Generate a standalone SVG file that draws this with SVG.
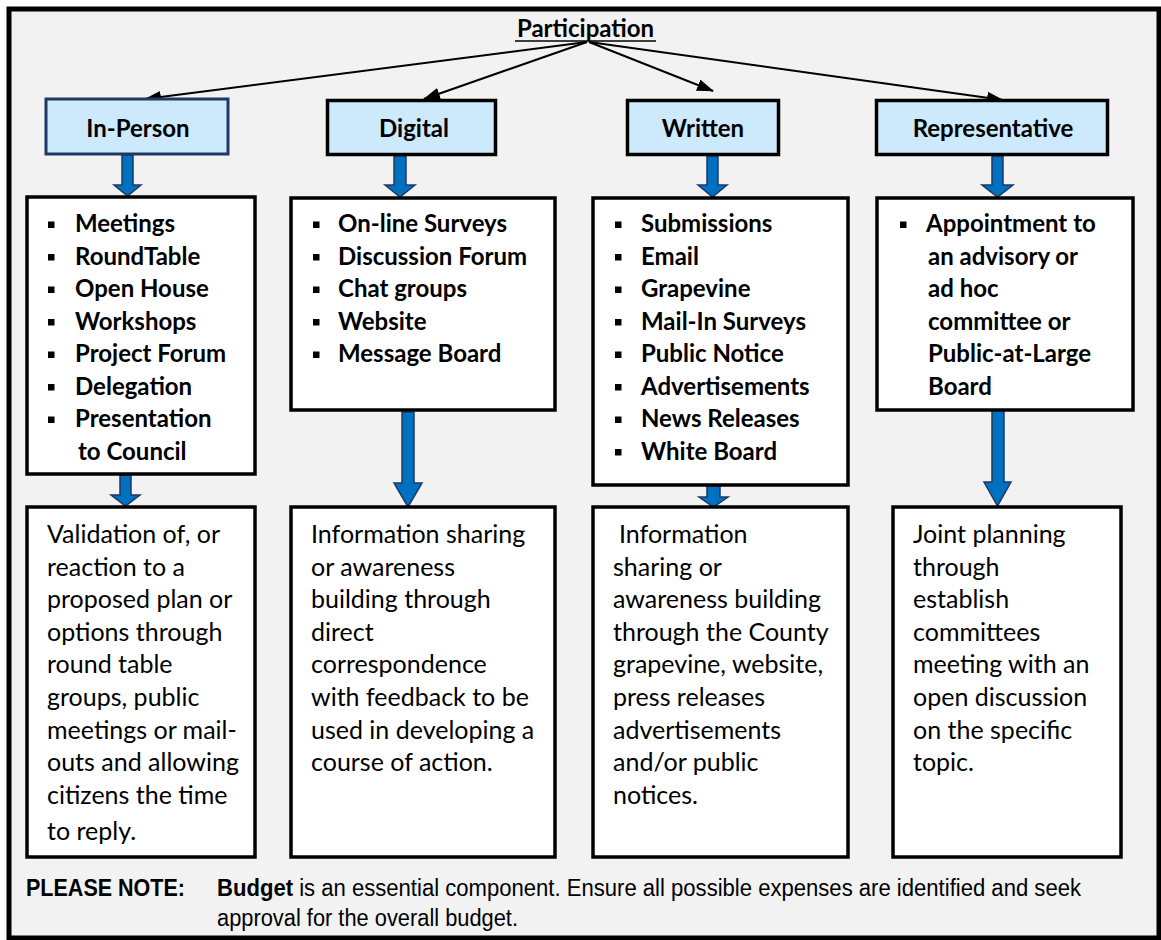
<svg xmlns="http://www.w3.org/2000/svg" width="1161" height="940" viewBox="0 0 1161 940">
<style>
.frame{fill:#f2f2f2;stroke:#000;stroke-width:5}
.hdr{fill:#cdeafc;stroke:#000;stroke-width:3.5}
.box{fill:#fff;stroke:#000;stroke-width:3.5}
.t{font-family:Lato,"Open Sans",sans-serif;font-size:24px;fill:#000}
.r{font-size:25px}
.b{font-weight:bold}
.c{text-anchor:middle}
.bul{fill:#000}
.arr{fill:#0070c0;stroke:#1f3864;stroke-width:1.5}
.con{stroke:#000;stroke-width:2;fill:none;marker-end:url(#ah)}
.ft{font-family:"Liberation Sans Narrow","Liberation Sans",Arial,sans-serif;font-size:23px;fill:#000}
</style>
<defs>
<marker id="ah" markerUnits="userSpaceOnUse" markerWidth="17" markerHeight="12" refX="16" refY="6" orient="auto">
<path d="M0,0 L17,6 L0,12 z" fill="#000"/>
</marker>
</defs>
<rect class="frame" x="9" y="9" width="1150" height="929"/>

<g id="participation">
<text class="t b c" x="585.5" y="37">Participation</text>
<line x1="515" y1="41" x2="656" y2="41" stroke="#000" stroke-width="1.6"/>
</g>

<g id="connectors">
<line class="con" x1="587" y1="42" x2="145" y2="99"/>
<line class="con" x1="587" y1="42" x2="424" y2="99"/>
<line class="con" x1="589" y1="42" x2="713" y2="91"/>
<line class="con" x1="589" y1="42" x2="1003" y2="100"/>
<polygon class="arr" points="122,155 133,155 133,185 141,185 127.5,196 114,185 122,185"/>
<polygon class="arr" points="394,156 406,156 406,185 415,185 400,197 385,185 394,185"/>
<polygon class="arr" points="707,156 718,156 718,185 727,185 712.5,197 698,185 707,185"/>
<polygon class="arr" points="992,156 1003,156 1003,185 1013,185 997.5,197 982,185 992,185"/>
<polygon class="arr" points="120,475 131,475 131,495 140,495 125.5,506 111,495 120,495"/>
<polygon class="arr" points="402,412 414,412 414,483 422,483 408,507 394,483 402,483"/>
<polygon class="arr" points="707,486 720,486 720,497 728,497 713.5,507 699,497 707,497"/>
<polygon class="arr" points="992,410 1004,410 1004,482 1011,482 997.5,506 984,482 992,482"/>
</g>

<g id="in-person">
<rect class="hdr" x="46" y="99" width="182" height="55" style="stroke:#1f3864;stroke-width:3"/>
<text class="t b c" x="138" y="137">In-Person</text>
</g>
<g id="digital">
<rect class="hdr" x="327.5" y="100.5" width="168" height="54"/>
<text class="t b c" x="414" y="137">Digital</text>
</g>
<g id="written">
<rect class="hdr" x="627.5" y="100.5" width="151" height="54"/>
<text class="t b c" x="703" y="137">Written</text>
</g>
<g id="representative">
<rect class="hdr" x="876.5" y="100.5" width="231" height="54"/>
<text class="t b c" x="993" y="137">Representative</text>
</g>

<g id="in-person-list">
<rect class="box" x="27" y="197" width="228" height="277"/>
<rect class="bul" x="48" y="221.5" width="6.5" height="6.5"/>
<rect class="bul" x="48" y="254" width="6.5" height="6.5"/>
<rect class="bul" x="48" y="286.5" width="6.5" height="6.5"/>
<rect class="bul" x="48" y="319" width="6.5" height="6.5"/>
<rect class="bul" x="48" y="351.5" width="6.5" height="6.5"/>
<rect class="bul" x="48" y="384" width="6.5" height="6.5"/>
<rect class="bul" x="48" y="416.5" width="6.5" height="6.5"/>
<text class="t b" x="75" y="232">Meetings</text>
<text class="t b" x="75" y="264.5">RoundTable</text>
<text class="t b" x="75" y="297">Open House</text>
<text class="t b" x="75" y="329.5">Workshops</text>
<text class="t b" x="75" y="362">Project Forum</text>
<text class="t b" x="75" y="394.5">Delegation</text>
<text class="t b" x="75" y="427">Presentation</text>
<text class="t b" x="78" y="459.5">to Council</text>
</g>

<g id="digital-list">
<rect class="box" x="291" y="198" width="264" height="212"/>
<rect class="bul" x="313" y="221.5" width="6.5" height="6.5"/>
<rect class="bul" x="313" y="254" width="6.5" height="6.5"/>
<rect class="bul" x="313" y="286.5" width="6.5" height="6.5"/>
<rect class="bul" x="313" y="319" width="6.5" height="6.5"/>
<rect class="bul" x="313" y="351.5" width="6.5" height="6.5"/>
<text class="t b" x="338" y="232">On-line Surveys</text>
<text class="t b" x="338" y="264.5">Discussion Forum</text>
<text class="t b" x="338" y="297">Chat groups</text>
<text class="t b" x="338" y="329.5">Website</text>
<text class="t b" x="338" y="362">Message Board</text>
</g>

<g id="written-list">
<rect class="box" x="593" y="198" width="255" height="287"/>
<rect class="bul" x="615" y="221.5" width="6.5" height="6.5"/>
<rect class="bul" x="615" y="254" width="6.5" height="6.5"/>
<rect class="bul" x="615" y="286.5" width="6.5" height="6.5"/>
<rect class="bul" x="615" y="319" width="6.5" height="6.5"/>
<rect class="bul" x="615" y="351.5" width="6.5" height="6.5"/>
<rect class="bul" x="615" y="384" width="6.5" height="6.5"/>
<rect class="bul" x="615" y="416.5" width="6.5" height="6.5"/>
<rect class="bul" x="615" y="449" width="6.5" height="6.5"/>
<text class="t b" x="641" y="232">Submissions</text>
<text class="t b" x="641" y="264.5">Email</text>
<text class="t b" x="641" y="297">Grapevine</text>
<text class="t b" x="641" y="329.5">Mail-In Surveys</text>
<text class="t b" x="641" y="362">Public Notice</text>
<text class="t b" x="641" y="394.5">Advertisements</text>
<text class="t b" x="641" y="427">News Releases</text>
<text class="t b" x="641" y="459.5">White Board</text>
</g>

<g id="representative-list">
<rect class="box" x="877" y="198" width="256" height="212"/>
<rect class="bul" x="900" y="221.5" width="6.5" height="6.5"/>
<text class="t b" x="926" y="232">Appointment to</text>
<text class="t b" x="928" y="264.5">an advisory or</text>
<text class="t b" x="928" y="297">ad hoc</text>
<text class="t b" x="928" y="329.5">committee or</text>
<text class="t b" x="928" y="362">Public-at-Large</text>
<text class="t b" x="928" y="394.5">Board</text>
</g>

<g id="in-person-outcome">
<rect class="box" x="27" y="507" width="228" height="350"/>
<text class="t r" x="47" y="543">Validation of, or</text>
<text class="t r" x="47" y="575.6">reaction to a</text>
<text class="t r" x="47" y="608.2">proposed plan or</text>
<text class="t r" x="47" y="640.8">options through</text>
<text class="t r" x="47" y="673.4">round table</text>
<text class="t r" x="47" y="706">groups, public</text>
<text class="t r" x="47" y="738.6">meetings or mail-</text>
<text class="t r" x="47" y="771.2">outs and allowing</text>
<text class="t r" x="47" y="803.8">citizens the time</text>
<text class="t r" x="47" y="840">to reply.</text>
</g>

<g id="digital-outcome">
<rect class="box" x="291" y="507" width="264" height="350"/>
<text class="t r" x="311" y="543">Information sharing</text>
<text class="t r" x="311" y="575.6">or awareness</text>
<text class="t r" x="311" y="608.2">building through</text>
<text class="t r" x="311" y="640.8">direct</text>
<text class="t r" x="311" y="673.4">correspondence</text>
<text class="t r" x="311" y="706">with feedback to be</text>
<text class="t r" x="311" y="738.6">used in developing a</text>
<text class="t r" x="311" y="771.2">course of action.</text>
</g>

<g id="written-outcome">
<rect class="box" x="593" y="507" width="255" height="350"/>
<text class="t r" x="619" y="543">Information</text>
<text class="t r" x="613" y="575.6">sharing or</text>
<text class="t r" x="613" y="608.2">awareness building</text>
<text class="t r" x="613" y="640.8">through the County</text>
<text class="t r" x="613" y="673.4">grapevine, website,</text>
<text class="t r" x="613" y="706">press releases</text>
<text class="t r" x="613" y="738.6">advertisements</text>
<text class="t r" x="613" y="771.2">and/or public</text>
<text class="t r" x="613" y="803.8">notices.</text>
</g>

<g id="representative-outcome">
<rect class="box" x="893" y="507" width="228" height="350"/>
<text class="t r" x="913" y="543">Joint planning</text>
<text class="t r" x="913" y="575.6">through</text>
<text class="t r" x="913" y="608.2">establish</text>
<text class="t r" x="913" y="640.8">committees</text>
<text class="t r" x="913" y="673.4">meeting with an</text>
<text class="t r" x="913" y="706">open discussion</text>
<text class="t r" x="913" y="738.6">on the specific</text>
<text class="t r" x="913" y="771.2">topic.</text>
</g>

<g id="note">
<text class="ft b" x="26" y="896" textLength="159" lengthAdjust="spacingAndGlyphs">PLEASE NOTE:</text>
<text class="ft" x="217" y="896" textLength="864" lengthAdjust="spacingAndGlyphs"><tspan font-weight="bold">Budget</tspan> is an essential component.  Ensure all possible expenses are identified and seek</text>
<text class="ft" x="217" y="926" textLength="301" lengthAdjust="spacingAndGlyphs">approval for the overall budget.</text>
</g>
</svg>
